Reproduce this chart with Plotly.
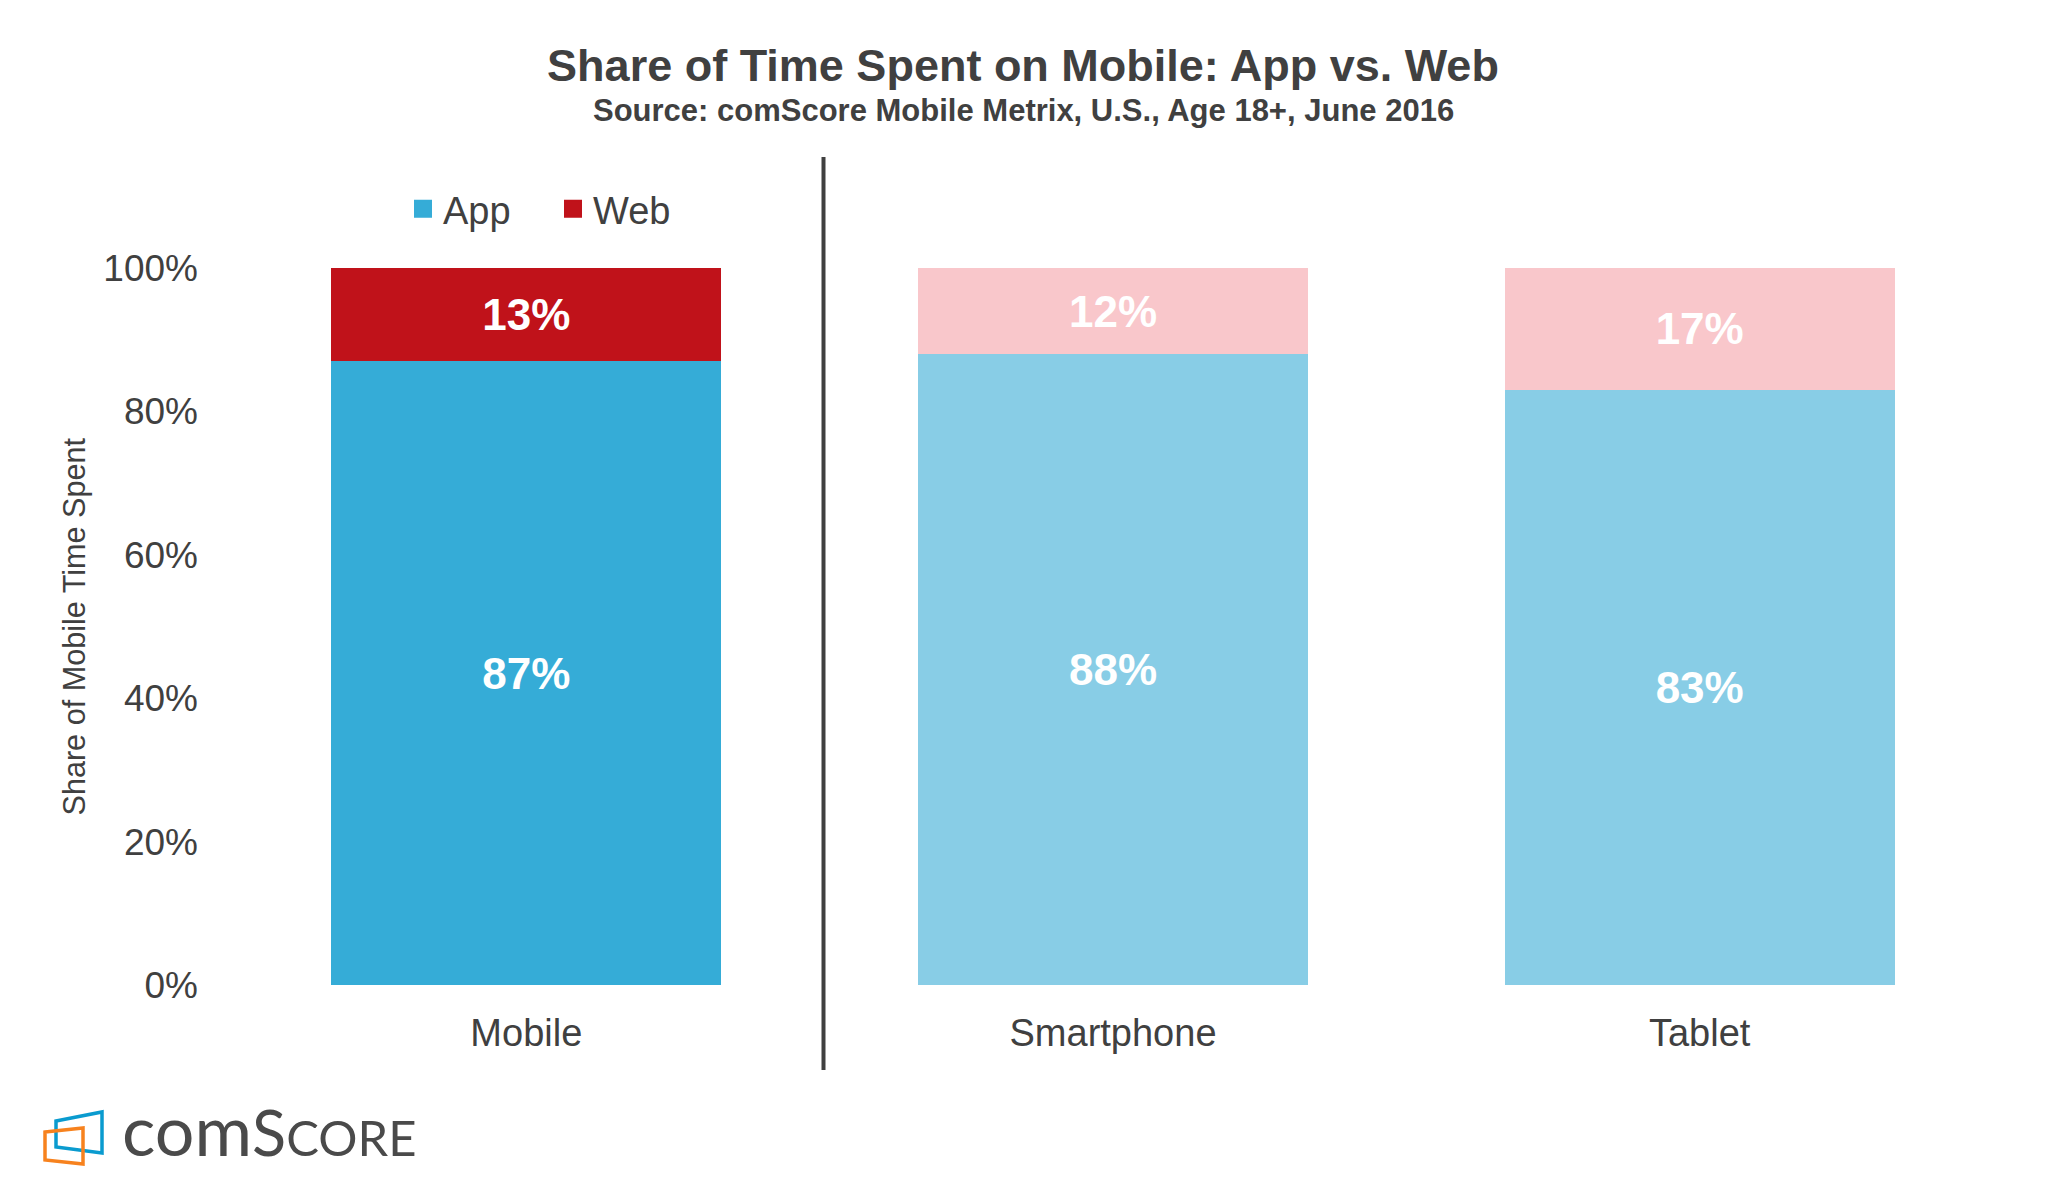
import plotly.graph_objects as go

# ---- data ----
categories = ["Mobile", "Smartphone", "Tablet"]
app_share = [87, 88, 83]
web_share = [13, 12, 17]
app_colors = ["#35ACD7", "#88CDE6", "#88CDE6"]
web_colors = ["#C0121A", "#F9C7CB", "#F9C7CB"]
y_ticks = [0, 20, 40, 60, 80, 100]
y_tick_labels = ["0%", "20%", "40%", "60%", "80%", "100%"]

# ---- layout geometry (pixels, in page coordinates) ----
W, H = 2046, 1198
OFF = 8  # page body margin
PLOT_L, PLOT_R, PLOT_T, PLOT_B = 233, 1993, 268, 985
L = PLOT_L - OFF
T = PLOT_T - OFF
R = W - (PLOT_R - OFF)
B = H - (PLOT_B - OFF)
PW, PH = PLOT_R - PLOT_L, PLOT_B - PLOT_T

def px(x):
    return (x - PLOT_L) / PW

def py(y):
    return (PLOT_B - y) / PH

FONT = "Liberation Sans, Arial, sans-serif"
GREY = "#404040"

fig = go.Figure()
fig.add_trace(go.Bar(
    x=categories, y=app_share, name="App", showlegend=False,
    marker=dict(color=app_colors, line=dict(width=0)),
    text=[f"{v}%" for v in app_share], textposition="inside",
    insidetextanchor="middle", textangle=0,
    textfont=dict(family=FONT, size=44, color="white", weight="bold"),
))
fig.add_trace(go.Bar(
    x=categories, y=web_share, name="Web", showlegend=False,
    marker=dict(color=web_colors, line=dict(width=0)),
    text=[f"{v}%" for v in web_share], textposition="inside",
    insidetextanchor="middle", textangle=0,
    textfont=dict(family=FONT, size=44, color="white", weight="bold"),
))
# legend entries
fig.add_trace(go.Scatter(x=[None], y=[None], mode="markers", name="App",
                         marker=dict(symbol="square", size=16, color=app_colors[0],
                                     line=dict(color=app_colors[0], width=2))))
fig.add_trace(go.Scatter(x=[None], y=[None], mode="markers", name="Web",
                         marker=dict(symbol="square", size=16, color=web_colors[0],
                                     line=dict(color=web_colors[0], width=2))))

shapes = [
    dict(type="line", xref="paper", yref="paper", x0=px(823.5), x1=px(823.5),
         y0=py(1070), y1=py(157), line=dict(color=GREY, width=4)),
]
# comScore logo icon
def quad(pts, color):
    path = "M " + " L ".join(f"{px(x)},{py(y)}" for x, y in pts) + " Z"
    return dict(type="path", xref="paper", yref="paper", path=path,
                line=dict(color=color, width=3.5), fillcolor="rgba(0,0,0,0)")

shapes.append(quad([(56, 1121), (102, 1112), (102, 1153), (56, 1147)], "#0A9BCF"))
shapes.append(quad([(45, 1132), (83, 1128), (83, 1164), (45, 1160)], "#F7821E"))

annotations = [
    dict(text="<b>Source: comScore Mobile Metrix, U.S., Age 18+, June 2016</b>",
         xref="paper", yref="paper", x=px(1023), y=py(110), showarrow=False,
         xanchor="center", yanchor="middle",
         font=dict(family=FONT, size=31, color=GREY)),
    dict(text="Share of Mobile Time Spent", textangle=-90,
         xref="paper", yref="paper", x=px(74), y=0.5, showarrow=False,
         xanchor="center", yanchor="middle",
         font=dict(family=FONT, size=30.6, color=GREY)),
    dict(text="<span style='font-size:70px'>com</span><span style='font-size:63px'>S</span>"
              "<span style='font-size:49px'>CORE</span>",
         xref="paper", yref="paper", x=px(120), y=py(1173), showarrow=False,
         xanchor="left", yanchor="bottom",
         font=dict(family="Lato, sans-serif", color="#4A4A4A")),
]

fig.update_layout(
    width=W, height=H,
    margin=dict(l=L, r=R, t=T, b=B, autoexpand=False),
    paper_bgcolor="white", plot_bgcolor="white",
    barmode="stack", bargap=0.335,
    title=dict(text="<b>Share of Time Spent on Mobile: App vs. Web</b>",
               xref="container", yref="container", x=(1023 - OFF) / W,
               y=1 - (65 - OFF) / H,
               xanchor="center", yanchor="middle",
               font=dict(family=FONT, size=45, color=GREY)),
    font=dict(family=FONT, color=GREY),
    legend=dict(orientation="h", x=px(553), y=py(209), xanchor="center",
                yanchor="middle", font=dict(family=FONT, size=38, color=GREY),
                bgcolor="rgba(0,0,0,0)", traceorder="normal",
                entrywidth=105, entrywidthmode="pixels"),
    xaxis=dict(showgrid=False, zeroline=False, showline=False, ticks="",
               tickfont=dict(family=FONT, size=38, color=GREY),
               ticklabelstandoff=22),
    yaxis=dict(range=[0, 100], tickvals=y_ticks, ticktext=y_tick_labels,
               showgrid=False, zeroline=False, showline=False, ticks="",
               tickfont=dict(family=FONT, size=37, color=GREY),
               ticklabelstandoff=34),
    shapes=shapes,
    annotations=annotations,
)

fig.write_html("out.html")
